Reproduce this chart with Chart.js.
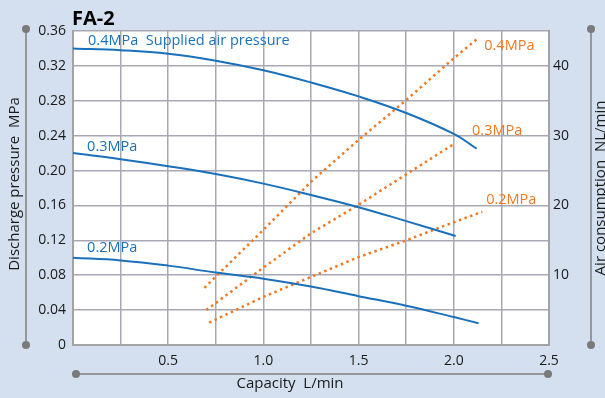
<!DOCTYPE html>
<html>
<head>
<meta charset="utf-8">
<script src="https://cdn.jsdelivr.net/npm/chart.js@4/dist/chart.umd.min.js"></script>
<style>
  html, body { margin: 0; padding: 0; background: #d4dff0; }
  #wrap { width: 605px; height: 398px; }
</style>
</head>
<body>
<div id="wrap"><canvas id="faChart"></canvas></div>
<script>
// discharge pressure curves (capacity L/min -> MPa)
const cap04 = [0, 0.25, 0.5, 0.75, 1.0, 1.25, 1.5, 1.75, 2.0, 2.12];
const prs04 = [0.340, 0.338, 0.334, 0.326, 0.315, 0.301, 0.285, 0.266, 0.242, 0.225];
const cap03 = [0, 0.25, 0.5, 0.75, 1.0, 1.25, 1.5, 1.75, 2.01];
const prs03 = [0.220, 0.213, 0.205, 0.196, 0.185, 0.172, 0.158, 0.142, 0.125];
const cap02 = [0, 0.25, 0.5, 0.75, 1.0, 1.25, 1.5, 1.75, 2.0, 2.13];
const prs02 = [0.100, 0.097, 0.091, 0.083, 0.076, 0.067, 0.056, 0.045, 0.032, 0.025];

// air consumption lines (capacity L/min -> NL/min)
const airCap04 = [0.69, 1.0, 1.25, 1.5, 1.75, 2.0, 2.12];
const air04 = [8.2, 16.5, 23.4, 29.4, 35.1, 41.1, 43.8];
const airCap03 = [0.70, 1.0, 1.25, 1.5, 2.0];
const air03 = [5.0, 11.1, 16.0, 20.1, 28.8];
const airCap02 = [0.715, 1.0, 1.5, 1.75, 2.0, 2.15];
const air02 = [3.2, 6.9, 12.6, 15.0, 17.6, 19.1];

const xTicks = [0.5, 1.0, 1.5, 2.0, 2.5];
const rightTicks = [10, 20, 30, 40];

const BLUE = '#1a70bb';
const ORANGE = '#f07a22';
const FONT = '"Open Sans", "Noto Sans", sans-serif';

function pts(xs, ys) {
  return xs.map((x, i) => ({ x: x, y: ys[i] }));
}

function pressureSet(xs, ys) {
  return {
    data: pts(xs, ys), yAxisID: 'y',
    borderColor: BLUE, borderWidth: 2, pointRadius: 0,
    tension: 0.4
  };
}

function airSet(xs, ys) {
  return {
    data: pts(xs, ys), yAxisID: 'y1',
    borderColor: ORANGE, borderWidth: 2.5, borderDash: [2.5, 3.5],
    pointRadius: 0, tension: 0
  };
}

// text labels on the curves
const curveLabels = [
  { text: '0.4MPa  Supplied air pressure', x: 0.079, y: 0.344, axis: 'y', color: BLUE },
  { text: '0.3MPa', x: 0.074, y: 0.222, axis: 'y', color: BLUE },
  { text: '0.2MPa', x: 0.074, y: 0.1066, axis: 'y', color: BLUE },
  { text: '0.4MPa', x: 2.16, y: 42.3, axis: 'y1', color: ORANGE },
  { text: '0.3MPa', x: 2.096, y: 30.1, axis: 'y1', color: ORANGE },
  { text: '0.2MPa', x: 2.17, y: 20.2, axis: 'y1', color: ORANGE }
];

function dot(ctx, x, y) {
  ctx.beginPath();
  ctx.arc(x, y, 4, 0, Math.PI * 2);
  ctx.fill();
}

const decor = {
  id: 'decor',
  beforeDraw(chart) {
    const { ctx, chartArea: a } = chart;
    ctx.save();
    ctx.fillStyle = '#ffffff';
    ctx.fillRect(a.left, a.top, a.right - a.left, a.bottom - a.top);
    ctx.restore();
  },
  afterDraw(chart) {
    const { ctx, scales } = chart;
    ctx.save();

    // side rails
    ctx.strokeStyle = '#808080';
    ctx.fillStyle = '#7a7a7a';
    ctx.lineWidth = 1.5;
    ctx.beginPath();
    ctx.moveTo(26, 29); ctx.lineTo(26, 345);
    ctx.moveTo(591, 29); ctx.lineTo(591, 345);
    ctx.moveTo(76, 374); ctx.lineTo(548, 374);
    ctx.stroke();
    dot(ctx, 26, 29); dot(ctx, 26, 345);
    dot(ctx, 591, 29); dot(ctx, 591, 345);
    dot(ctx, 76, 374); dot(ctx, 548, 374);

    // title
    ctx.fillStyle = '#000';
    ctx.font = 'bold 20px ' + FONT;
    ctx.textAlign = 'left';
    ctx.textBaseline = 'alphabetic';
    ctx.fillText('FA-2', 72, 25);

    // axis titles
    ctx.font = '15px ' + FONT;
    ctx.fillStyle = '#1a1a1a';
    ctx.textAlign = 'center';
    ctx.textBaseline = 'middle';
    ctx.fillText('Capacity  L/min', 290, 384);

    ctx.save();
    ctx.translate(15, 184);
    ctx.rotate(-Math.PI / 2);
    ctx.fillText('Discharge pressure  MPa', 0, 0);
    ctx.restore();

    ctx.save();
    ctx.translate(601, 188);
    ctx.rotate(-Math.PI / 2);
    ctx.fillText('Air consumption  NL/min', 0, 0);
    ctx.restore();

    // curve labels
    ctx.font = '14.5px ' + FONT;
    ctx.textAlign = 'left';
    ctx.textBaseline = 'alphabetic';
    curveLabels.forEach(l => {
      ctx.fillStyle = l.color;
      ctx.fillText(l.text, scales.x.getPixelForValue(l.x), scales[l.axis].getPixelForValue(l.y));
    });
    ctx.restore();
  }
};

new Chart(document.getElementById('faChart'), {
  type: 'line',
  data: {
    datasets: [
      pressureSet(cap04, prs04),
      pressureSet(cap03, prs03),
      pressureSet(cap02, prs02),
      airSet(airCap04, air04),
      airSet(airCap03, air03),
      airSet(airCap02, air02)
    ]
  },
  options: {
    responsive: true,
    maintainAspectRatio: false,
    animation: false,
    layout: { padding: { top: 31, left: 0, right: 0, bottom: 0 } },
    plugins: { legend: { display: false }, tooltip: { enabled: false } },
    scales: {
      x: {
        type: 'linear', min: 0, max: 2.5,
        afterFit: s => { s.height = 53; },
        afterBuildTicks: s => {
          s.ticks = [];
          for (let i = 0; i <= 10; i++) s.ticks.push({ value: i * 0.25 });
        },
        ticks: {
          padding: 8, maxRotation: 0, autoSkip: false,
          color: '#1a1a1a', font: { family: FONT, size: 14 },
          callback: v => xTicks.some(t => Math.abs(t - v) < 1e-6) ? v.toFixed(1) : ''
        },
        grid: { color: '#a8a8b4', lineWidth: 1.5, drawTicks: false },
        border: { color: '#a3a3a3', width: 2 }
      },
      y: {
        position: 'left', min: 0, max: 0.36,
        afterFit: s => { s.width = 73; },
        afterBuildTicks: s => {
          s.ticks = [];
          for (let i = 0; i <= 9; i++) s.ticks.push({ value: Math.round(i * 4) / 100 });
        },
        ticks: {
          padding: 7, color: '#1a1a1a', font: { family: FONT, size: 14 },
          callback: v => v === 0 ? '0' : v.toFixed(2)
        },
        grid: { color: '#a8a8b4', lineWidth: 1.5, drawTicks: false },
        border: { color: '#a3a3a3', width: 2 }
      },
      y1: {
        position: 'right', min: 0, max: 45,
        afterFit: s => { s.width = 56; },
        afterBuildTicks: s => {
          s.ticks = [];
          for (let i = 0; i <= 9; i++) s.ticks.push({ value: i * 5 });
        },
        ticks: {
          padding: 4, color: '#1a1a1a', font: { family: FONT, size: 14 },
          callback: v => rightTicks.includes(v) ? String(v) : ''
        },
        grid: { display: false, drawTicks: false },
        border: { color: '#a3a3a3', width: 2 }
      }
    }
  },
  plugins: [decor]
});
</script>
</body>
</html>
